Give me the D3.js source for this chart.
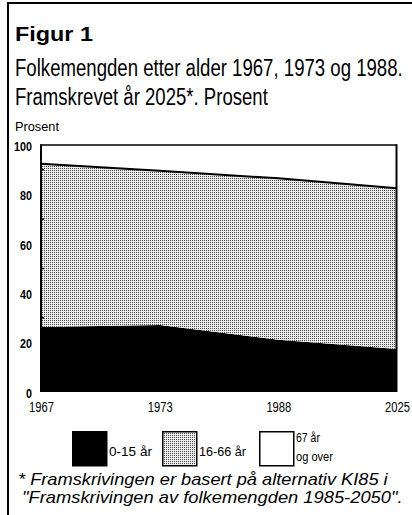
<!DOCTYPE html>
<html>
<head>
<meta charset="utf-8">
<script src="https://cdn.jsdelivr.net/npm/d3@7/dist/d3.min.js"></script>
<style>
  html, body { margin: 0; padding: 0; background: #fff; }
  svg { display: block; font-family: "Liberation Sans", Arial, sans-serif; }
</style>
</head>
<body>
<div id="chart"></div>
<script>
// data
const years = ["1967", "1973", "1988", "2025"];
const young = [26.3, 27.1, 21.2, 17.4];   // 0-15 år
const adult = [66.1, 62.5, 65.3, 65.1];   // 16-66 år
const old = [7.6, 10.4, 13.5, 17.5];      // 67 år og over
const yTicks = [0, 20, 40, 60, 80, 100];
const yMinor = [10, 30, 50, 70, 90];
const legendLabels = [["0-15 år"], ["16-66 år"], ["67 år", "og over"]];
const keys = ["young", "adult", "old"];

const width = 412;
const height = 515;

// squeeze a text horizontally (the original uses a condensed face)
function squeeze(sel, target, fixed) {
  sel.each(function () {
    const t = d3.select(this);
    const x = +t.attr("x") || 0;
    const y = +t.attr("y") || 0;
    const w = this.getComputedTextLength() || 1;
    const s = fixed ? target : target / w;
    t.attr("x", 0).attr("y", 0).attr("transform", `translate(${x},${y}) scale(${s},1)`);
  });
}

const svg = d3
  .select("#chart")
  .append("svg")
  .attr("width", width)
  .attr("height", height);

// dotted screen used for the middle band
const defs = svg.append("defs");
const pat = defs
  .append("pattern")
  .attr("id", "screen")
  .attr("patternUnits", "userSpaceOnUse")
  .attr("width", 2)
  .attr("height", 2);
pat.append("rect").attr("width", 2).attr("height", 2).attr("fill", "#ececec");
pat.append("rect").attr("width", 1).attr("height", 1).attr("fill", "#4a4a4a");

const fills = { young: "#000", adult: "url(#screen)", old: "#fff" };

// outer frame (left and top only)
svg
  .append("path")
  .attr("d", `M 8 ${height} L 8 3 L ${width} 3`)
  .attr("fill", "none")
  .attr("stroke", "#000")
  .attr("stroke-width", 2);

// headings
const heads = [
  { text: "Figur 1", y: 41, size: 20, bold: true, w: 78 },
  { text: "Folkemengden etter alder 1967, 1973 og 1988.", y: 76, size: 23, bold: false, w: 388 },
  { text: "Framskrevet år 2025*. Prosent", y: 105, size: 23, bold: false, w: 253 },
  { text: "Prosent", y: 131, size: 13, bold: false, w: 44 },
];
heads.forEach((h) => {
  svg
    .append("text")
    .attr("x", 15)
    .attr("y", h.y)
    .attr("font-size", h.size)
    .attr("font-weight", h.bold ? "bold" : "normal")
    .text(h.text)
    .call(squeeze, h.w);
});

// scales
const x = d3.scalePoint().domain(years).range([41, 397]);
const y = d3.scaleLinear().domain([0, 100]).range([392, 145]);

const table = years.map((yr, i) => ({ year: yr, young: young[i], adult: adult[i], old: old[i] }));
const series = d3.stack().keys(keys)(table);

const area = d3
  .area()
  .x((d) => x(d.data.year))
  .y0((d) => y(d[0]))
  .y1((d) => y(Math.min(d[1], 100)));

const plot = svg.append("g");
plot
  .selectAll(".band")
  .data(series)
  .enter()
  .append("path")
  .attr("class", "band")
  .attr("fill", (d) => fills[d.key])
  .attr("d", area);

// heavy line on top of the working-age band
const topLine = d3
  .line()
  .x((d) => x(d.data.year))
  .y((d) => y(d[1]));
plot
  .append("path")
  .attr("fill", "none")
  .attr("stroke", "#000")
  .attr("stroke-width", 2)
  .attr("d", topLine(series[1]));

// plot box
plot
  .append("line")
  .attr("x1", 41).attr("x2", 397)
  .attr("y1", y(100)).attr("y2", y(100))
  .attr("stroke", "#000").attr("stroke-width", 1.5);
plot
  .append("line")
  .attr("x1", 41).attr("x2", 41)
  .attr("y1", y(100) - 0.75).attr("y2", y(0))
  .attr("stroke", "#000").attr("stroke-width", 2);
plot
  .append("line")
  .attr("x1", 396.5).attr("x2", 396.5)
  .attr("y1", y(100) - 0.75).attr("y2", y(0))
  .attr("stroke", "#000").attr("stroke-width", 2);

// y axis
const yAxis = d3.axisLeft(y).tickValues(yTicks).tickSize(0).tickPadding(9);
const yg = svg.append("g").attr("transform", "translate(41,0)").call(yAxis);
yg.select(".domain").remove();
yg.selectAll("text")
  .attr("font-size", 12.5)
  .attr("font-weight", "bold")
  .attr("fill", "#000")
  .attr("dy", "0.42em")
  .call(squeeze, 0.86, true);

svg
  .append("g")
  .selectAll("line")
  .data(yMinor)
  .enter()
  .append("line")
  .attr("x1", 41)
  .attr("x2", 44)
  .attr("y1", (d) => y(d))
  .attr("y2", (d) => y(d))
  .attr("stroke", "#000")
  .attr("stroke-width", 1.5);

// x axis
const xAxis = d3.axisBottom(x).tickSize(0).tickPadding(10);
const xg = svg.append("g").attr("transform", `translate(0,${y(0)})`).call(xAxis);
xg.select(".domain").remove();
xg.selectAll("text")
  .attr("font-size", 14)
  .attr("fill", "#000")
  .call(squeeze, 0.8, true);

// legend
const legendX = [72, 162, 259];
const legendW = [[43], [47], [24, 37]];
const legend = svg
  .append("g")
  .selectAll("g")
  .data(keys)
  .enter()
  .append("g")
  .attr("transform", (d, i) => `translate(${legendX[i]},431)`);
legend
  .append("rect")
  .attr("x", 0.75)
  .attr("y", 0.75)
  .attr("width", 34)
  .attr("height", 34)
  .attr("fill", (d) => fills[d])
  .attr("stroke", "#000")
  .attr("stroke-width", 1.5);
legend.each(function (d, i) {
  const lines = legendLabels[i];
  const g = d3.select(this);
  lines.forEach((t, j) => {
    g.append("text")
      .attr("x", 37)
      .attr("y", lines.length === 1 ? 25 : 11 + j * 19)
      .attr("font-size", 13.5)
      .text(t)
      .call(squeeze, legendW[i][j]);
  });
});

// footnote
const note = [
  "* Framskrivingen er basert på alternativ KI85 i",
  "\"Framskrivingen av folkemengden 1985-2050\".",
];
const noteX = [18, 22];
const noteLen = [370, 381];
svg
  .append("g")
  .selectAll("text")
  .data(note)
  .enter()
  .append("text")
  .attr("x", (d, i) => noteX[i])
  .attr("y", (d, i) => 485 + i * 18)
  .attr("font-style", "italic")
  .attr("font-size", 16)
  .text((d) => d)
  .each(function (d, i) {
    d3.select(this).call(squeeze, noteLen[i]);
  });
</script>
</body>
</html>
